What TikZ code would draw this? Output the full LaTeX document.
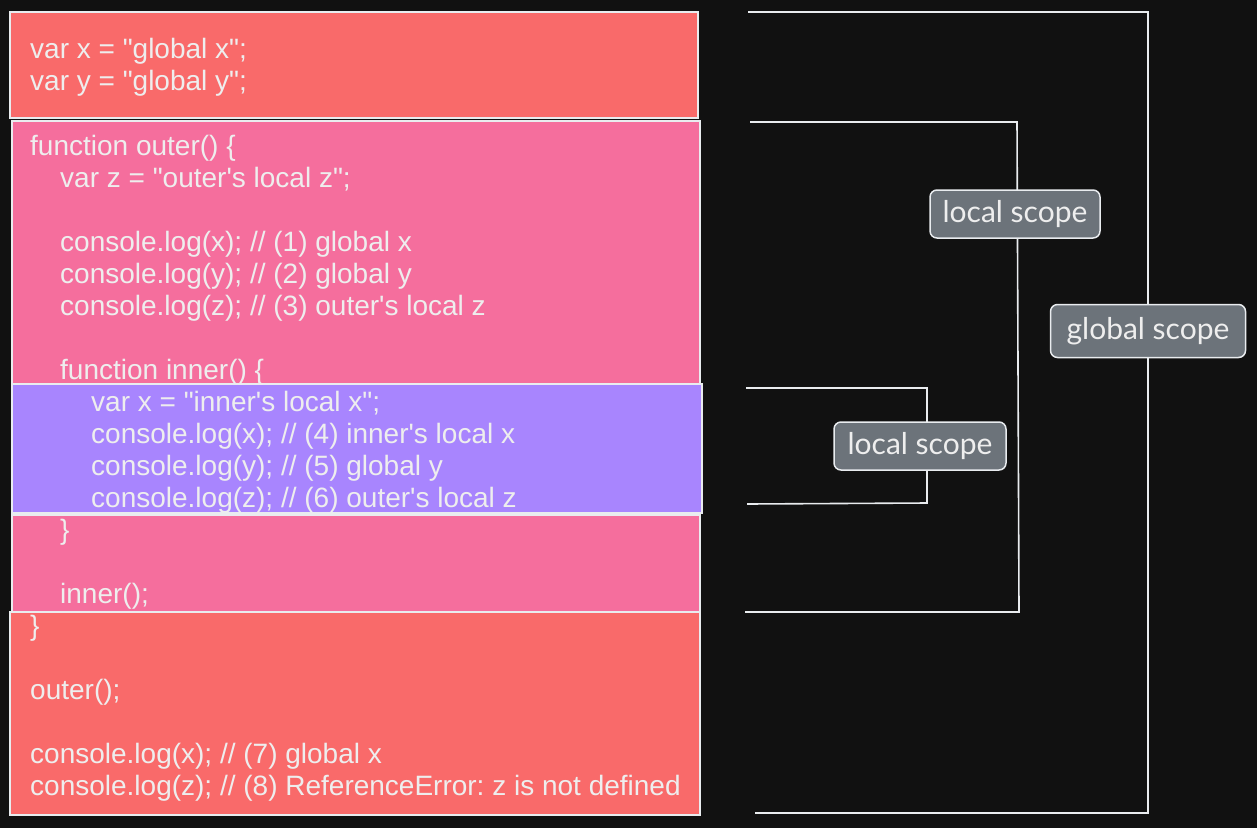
\documentclass[tikz,border=0pt]{standalone}
\usepackage{fontspec}
\setmainfont{Liberation Sans}[Ligatures=TeXOff]
\newfontfamily\labelfont{Lato}
\definecolor{bgc}{RGB}{17,17,17}
\definecolor{redc}{RGB}{249,106,106}
\definecolor{pinkc}{RGB}{245,110,157}
\definecolor{purpc}{RGB}{168,133,254}
\definecolor{grayc}{RGB}{108,115,122}
\definecolor{txtc}{RGB}{238,238,238}
\definecolor{linec}{RGB}{233,236,239}
\tikzset{
  codebox/.style={draw=linec, line width=1.5pt},
  codeline/.style={anchor=base west, inner sep=0pt, text=txtc, font=\fontsize{28}{32}\selectfont},
  bracket/.style={draw=linec, line width=1.6pt, line join=miter},
  scopelabel/.style={draw=linec, line width=1.5pt, fill=grayc, rounded corners=7pt, text=txtc,
     font=\labelfont\fontsize{30}{32}\selectfont, inner sep=0pt, minimum height=48pt},
}
\begin{document}
\frenchspacing
\begin{tikzpicture}[x=1pt,y=-1pt]
\fill[bgc] (0,0) rectangle (1257,828);
\useasboundingbox (0,0) rectangle (1257,828);
% code boxes
\draw[codebox, fill=redc] (10,12) rectangle (698,118);
\draw[codebox, fill=pinkc] (12,121) rectangle (700,612);
\draw[codebox, fill=purpc] (12,384) rectangle (702,513);
\draw[codebox] (12,515) -- (700,515);
\draw[codebox, fill=redc] (10,612) rectangle (700,815);
% code lines
\node[codeline] (l1) at (30,58) {var x = "global x";};
\node[codeline] (l2) at (30,90) {var y = "global y";};
\node[codeline] (l3) at (30,155) {function outer() \{};
\node[codeline] (l4) at (60,187) {var z = "outer's local z";};
\node[codeline] (l5) at (60,251) {console.log(x); // (1) global x};
\node[codeline] (l6) at (60,283) {console.log(y); // (2) global y};
\node[codeline] (l7) at (60,315) {console.log(z); // (3) outer's local z};
\node[codeline] (l8) at (60,379) {function inner() \{};
\node[codeline] (l9) at (91,411) {var x = "inner's local x";};
\node[codeline] (l10) at (91,443) {console.log(x); // (4) inner's local x};
\node[codeline] (l11) at (91,475) {console.log(y); // (5) global y};
\node[codeline] (l12) at (91,507) {console.log(z); // (6) outer's local z};
\node[codeline] (l13) at (60,539) {\}};
\node[codeline] (l14) at (60,603) {inner();};
\node[codeline] (l15) at (30,635) {\}};
\node[codeline] (l16) at (30,699) {outer();};
\node[codeline] (l17) at (30,763) {console.log(x); // (7) global x};
\node[codeline] (l18) at (30,795) {console.log(z); // (8) ReferenceError: z is not defined};
% global scope bracket
\coordinate (gt) at (748,12);
\coordinate (gtr) at (1148,12);
\coordinate (gbr) at (1148,813);
\coordinate (gb) at (755,813);
\draw[bracket] (gt) -- (gtr) -- (gbr) -- (gb);
\node[scopelabel, minimum width=195pt, minimum height=53pt] (gs) at (1148,331) {global scope};
% outer local scope bracket
\coordinate (ot) at (750,122);
\coordinate (otr) at (1017,122);
\coordinate (obr) at (1019,612);
\coordinate (ob) at (745,612);
\draw[bracket] (ot) -- (otr) -- (obr) -- (ob);
\node[scopelabel, minimum width=170pt] (ol) at (1015,214) {local scope};
% inner local scope bracket
\coordinate (it) at (746,388);
\coordinate (itr) at (927,388);
\coordinate (ibr) at (927,503);
\coordinate (ib) at (747,504);
\draw[bracket] (it) -- (itr) -- (ibr) -- (ib);
\node[scopelabel, minimum width=172pt] (il) at (920,446) {local scope};
\end{tikzpicture}
\end{document}
